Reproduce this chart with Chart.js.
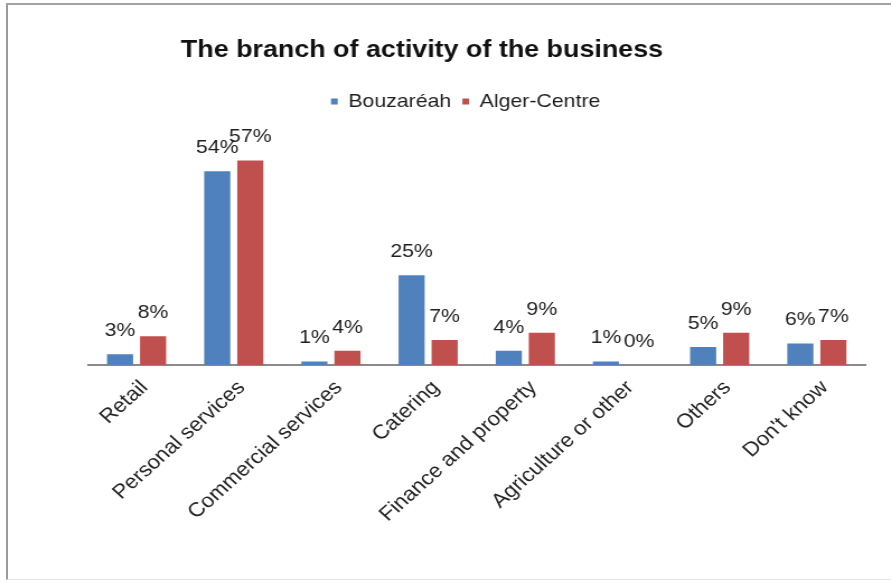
<!DOCTYPE html>
<html>
<head>
<meta charset="utf-8">
<title>The branch of activity of the business</title>
<script src="https://cdn.jsdelivr.net/npm/chart.js@4.4.1/dist/chart.umd.min.js"></script>
<style>
  html, body { margin: 0; padding: 0; background: #ffffff; overflow: hidden; }
  body { width: 891px; height: 584px; position: relative; }
  /* the drawing is laid out on a narrower canvas and widened horizontally */
  #stage { position: absolute; left: 0; top: 0; width: 796px; height: 584px;
           transform: scaleX(1.1193); transform-origin: 0 0; }
  #frame { position: absolute; left: 6px; top: 3px; width: 900px; height: 574px;
           border-left: 2px solid #9c9c9c; border-top: 2px solid #a4a4a4;
           border-bottom: 1px solid #e4e4e4; pointer-events: none; }
</style>
</head>
<body>
<div id="stage"><canvas id="chart" width="796" height="584"></canvas></div>
<div id="frame"></div>
<script>
const categories = ['Retail', 'Personal services', 'Commercial services', 'Catering',
                    'Finance and property', 'Agriculture or other', 'Others', "Don't know"];
const bouzareah   = [3, 54, 1, 25, 4, 1, 5, 6];
const algerCentre = [8, 57, 4, 7, 9, 0, 9, 7];
const seriesNames = ['Bouzaréah', 'Alger-Centre'];
const seriesColors = ['#4F81BD', '#C0504D'];
const chartTitle = 'The branch of activity of the business';

const FONT = "'Liberation Sans', Arial, Helvetica, sans-serif";
Chart.defaults.font.family = FONT;
Chart.defaults.color = '#1e1e1e';

// Heading, set to the left of the plot centre
const heading = {
  id: 'heading',
  afterDraw(chart) {
    const ctx = chart.ctx;
    ctx.save();
    ctx.font = 'bold 24px ' + FONT;
    ctx.fillStyle = '#111111';
    ctx.textAlign = 'left';
    ctx.textBaseline = 'alphabetic';
    ctx.fillText(chartTitle, 161.6, 57);
    ctx.restore();
  }
};

// Percentage written above every bar
const valueLabels = {
  id: 'valueLabels',
  afterDatasetsDraw(chart) {
    const ctx = chart.ctx;
    ctx.save();
    ctx.font = '19px ' + FONT;
    ctx.fillStyle = '#1e1e1e';
    ctx.textAlign = 'center';
    ctx.textBaseline = 'alphabetic';
    chart.data.datasets.forEach((ds, i) => {
      chart.getDatasetMeta(i).data.forEach((bar, j) => {
        ctx.fillText(ds.data[j] + '%', bar.x, bar.y - 18);
      });
    });
    ctx.restore();
  }
};

const datasets = [bouzareah, algerCentre].map((values, i) => ({
  label: seriesNames[i],
  data: values,
  backgroundColor: seriesColors[i],
  borderWidth: 0,
  categoryPercentage: 0.68,
  barPercentage: 0.79
}));

new Chart(document.getElementById('chart'), {
  type: 'bar',
  data: { labels: categories, datasets },
  options: {
    responsive: false,
    animation: false,
    devicePixelRatio: 1,
    layout: { padding: { top: 82, left: 58.8, right: 22.8, bottom: 0 } },
    plugins: {
      title: { display: false },
      tooltip: { enabled: false },
      legend: {
        position: 'top',
        labels: { boxWidth: 6, boxHeight: 6, padding: 10, color: '#1e1e1e', font: { size: 19 } }
      }
    },
    scales: {
      x: {
        grid: { display: false, drawTicks: false },
        border: { display: true, color: '#8a8a8a', width: 2 },
        ticks: { maxRotation: 45, minRotation: 45, autoSkip: false, padding: 11, labelOffset: 7,
                 color: '#222222', font: { size: 20 } },
        afterFit(scale) { scale.height = 584 - 365; }
      },
      y: {
        min: 0,
        max: 68,
        display: true,
        grid: { display: false },
        border: { display: false },
        ticks: { display: false },
        afterFit(scale) { scale.width = 19.8; }
      }
    }
  },
  plugins: [heading, valueLabels]
});
</script>
</body>
</html>
